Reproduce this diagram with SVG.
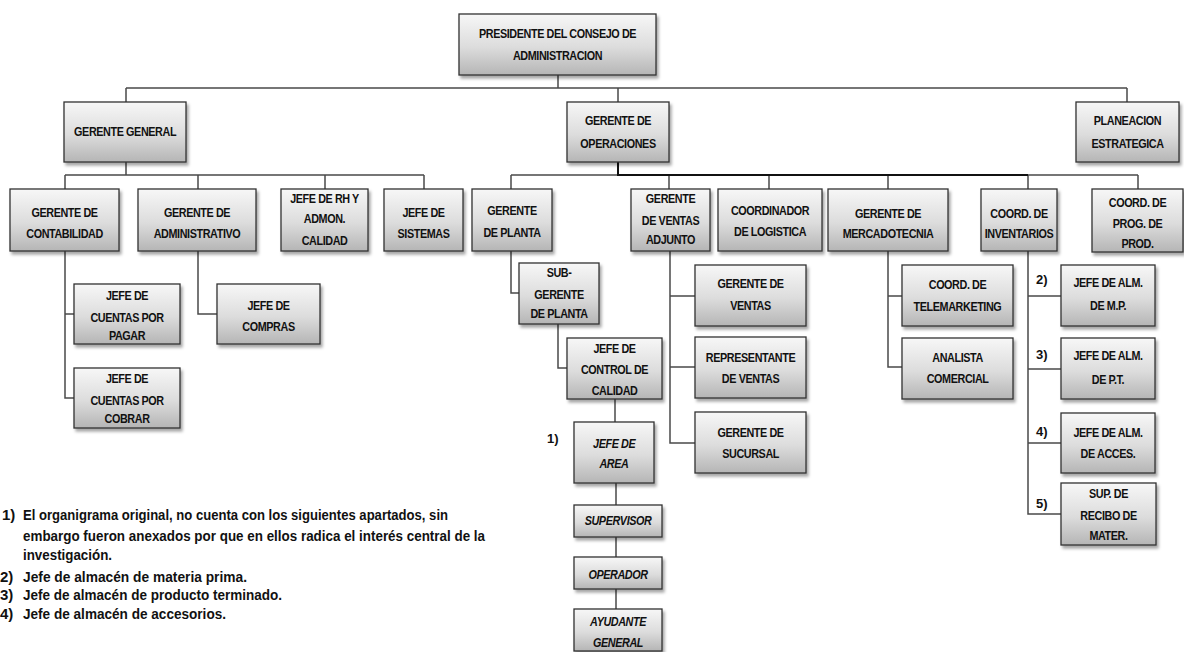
<svg xmlns="http://www.w3.org/2000/svg" width="1184" height="652" viewBox="0 0 1184 652">
<defs>
<linearGradient id="g" x1="0" y1="0" x2="0" y2="1">
<stop offset="0" stop-color="#f7f7f7"/>
<stop offset="0.55" stop-color="#dcdcdc"/>
<stop offset="1" stop-color="#b5b5b5"/>
</linearGradient>
<filter id="sh" x="-10%" y="-10%" width="125%" height="130%">
<feDropShadow dx="2" dy="3" stdDeviation="1.6" flood-color="#000" flood-opacity="0.35"/>
</filter>
</defs>
<style>
.b{fill:url(#g);stroke:#333;stroke-width:1.3;filter:url(#sh)}
.t{font-family:'Liberation Sans',sans-serif;font-weight:bold;font-size:13.5px;text-anchor:middle;fill:#111;letter-spacing:-0.5px;transform-box:fill-box;transform-origin:center;transform:scaleX(0.8)}
.i{font-style:italic}
.c{fill:none;stroke:#4a4a4a;stroke-width:1.5}
.k{stroke:#111;stroke-width:2}
.n{font-family:'Liberation Sans',sans-serif;font-weight:bold;font-size:15px;fill:#111}
.l{font-family:'Liberation Sans',sans-serif;font-weight:bold;font-size:13px;fill:#111}
</style>
<rect width="1184" height="652" fill="#fff"/>
<g id="connectors">
<path class="c" d="M558,75V88M126,88H1127M126,88V102M618,88V102M1127,88V102"/>
<path class="c" d="M126,162V175M65,175H424M65,175V189M198,175V189M325,175V189M424,175V189"/>
<path class="c" d="M618,162V175M511,175H1138M511,175V189M669,175V189M769,175V189M888,175V189M1028,175V189M1138,175V189"/>
<path class="c k" d="M618,162V175H1028"/>
<path class="c" d="M65,251V398H74M65,314H74"/>
<path class="c" d="M198,251V314H217"/>
<path class="c" d="M511,251V293H519"/>
<path class="c" d="M558,324V368H567"/>
<path class="c" d="M615,399V422"/>
<path class="c" d="M616,483V505M616,537V557M616,589V609"/>
<path class="c" d="M670,251V443H695M670,296H695M670,367H695"/>
<path class="c" d="M888,251V367H902M888,296H902"/>
<path class="c" d="M1028,251V514H1061M1028,296H1061M1028,369H1061M1028,443H1061"/>
</g>
<g id="pres"><rect class="b" x="459" y="14" width="197" height="61"/><text class="t" x="557.5" y="38">PRESIDENTE DEL CONSEJO DE</text><text class="t" x="557.5" y="60">ADMINISTRACION</text></g>
<g id="gg"><rect class="b" x="64" y="102" width="122" height="60"/><text class="t" x="125" y="136">GERENTE GENERAL</text></g>
<g id="go"><rect class="b" x="567" y="102" width="102" height="60"/><text class="t" x="618" y="125">GERENTE  DE</text><text class="t" x="618" y="148">OPERACIONES</text></g>
<g id="plan"><rect class="b" x="1076" y="102" width="103" height="60"/><text class="t" x="1127.5" y="125">PLANEACION</text><text class="t" x="1127.5" y="148">ESTRATEGICA</text></g>
<g id="cont"><rect class="b" x="10" y="189" width="109" height="62"/><text class="t" x="64.5" y="217">GERENTE DE</text><text class="t" x="64.5" y="238">CONTABILIDAD</text></g>
<g id="adm"><rect class="b" x="138" y="189" width="118" height="62"/><text class="t" x="197" y="217">GERENTE DE</text><text class="t" x="197" y="238">ADMINISTRATIVO</text></g>
<g id="rh"><rect class="b" x="281" y="189" width="87" height="62"/><text class="t" x="324.5" y="203">JEFE DE RH Y</text><text class="t" x="324.5" y="223">ADMON.</text><text class="t" x="324.5" y="245">CALIDAD</text></g>
<g id="sis"><rect class="b" x="384" y="189" width="79" height="62"/><text class="t" x="423.5" y="217">JEFE DE</text><text class="t" x="423.5" y="238">SISTEMAS</text></g>
<g id="planta"><rect class="b" x="472" y="189" width="80" height="62"/><text class="t" x="512" y="215">GERENTE</text><text class="t" x="512" y="237">DE PLANTA</text></g>
<g id="vadj"><rect class="b" x="631" y="189" width="79" height="62"/><text class="t" x="670.5" y="203">GERENTE</text><text class="t" x="670.5" y="225">DE VENTAS</text><text class="t" x="670.5" y="244">ADJUNTO</text></g>
<g id="log"><rect class="b" x="718" y="189" width="104" height="62"/><text class="t" x="770" y="215">COORDINADOR</text><text class="t" x="770" y="236">DE LOGISTICA</text></g>
<g id="merc"><rect class="b" x="828" y="189" width="120" height="62"/><text class="t" x="888" y="218">GERENTE DE</text><text class="t" x="888" y="238">MERCADOTECNIA</text></g>
<g id="inv"><rect class="b" x="981" y="189" width="76" height="62"/><text class="t" x="1019" y="218">COORD. DE</text><text class="t" x="1019" y="238">INVENTARIOS</text></g>
<g id="prog"><rect class="b" x="1092" y="189" width="91" height="63"/><text class="t" x="1137.5" y="207">COORD. DE</text><text class="t" x="1137.5" y="228">PROG. DE</text><text class="t" x="1137.5" y="248">PROD.</text></g>
<g id="cxp"><rect class="b" x="74" y="284" width="106" height="60"/><text class="t" x="127" y="300">JEFE DE</text><text class="t" x="127" y="322">CUENTAS POR</text><text class="t" x="127" y="340">PAGAR</text></g>
<g id="cxc"><rect class="b" x="74" y="368" width="106" height="60"/><text class="t" x="127" y="383">JEFE DE</text><text class="t" x="127" y="405">CUENTAS POR</text><text class="t" x="127" y="423">COBRAR</text></g>
<g id="compras"><rect class="b" x="217" y="284" width="103" height="60"/><text class="t" x="268.5" y="310">JEFE DE</text><text class="t" x="268.5" y="331">COMPRAS</text></g>
<g id="subg"><rect class="b" x="519" y="263" width="80" height="61"/><text class="t" x="559" y="277">SUB-</text><text class="t" x="559" y="299">GERENTE</text><text class="t" x="559" y="318">DE PLANTA</text></g>
<g id="ctrl"><rect class="b" x="567" y="338" width="95" height="61"/><text class="t" x="614.5" y="353">JEFE DE</text><text class="t" x="614.5" y="374">CONTROL DE</text><text class="t" x="614.5" y="395">CALIDAD</text></g>
<g id="area"><rect class="b" x="574" y="422" width="80" height="61"/><text class="t i" x="614" y="448">JEFE DE</text><text class="t i" x="614" y="468">AREA</text></g>
<g id="sup"><rect class="b" x="574" y="505" width="88" height="32"/><text class="t i" x="618" y="525">SUPERVISOR</text></g>
<g id="oper"><rect class="b" x="574" y="557" width="88" height="32"/><text class="t i" x="618" y="579">OPERADOR</text></g>
<g id="ayud"><rect class="b" x="574" y="609" width="88" height="42"/><text class="t i" x="618" y="626">AYUDANTE</text><text class="t i" x="618" y="647">GENERAL</text></g>
<g id="gventas"><rect class="b" x="695" y="265" width="111" height="61"/><text class="t" x="750.5" y="288">GERENTE DE</text><text class="t" x="750.5" y="310">VENTAS</text></g>
<g id="rep"><rect class="b" x="695" y="337" width="111" height="61"/><text class="t" x="750.5" y="362">REPRESENTANTE</text><text class="t" x="750.5" y="383">DE VENTAS</text></g>
<g id="suc"><rect class="b" x="695" y="412" width="111" height="61"/><text class="t" x="750.5" y="437">GERENTE DE</text><text class="t" x="750.5" y="458">SUCURSAL</text></g>
<g id="tele"><rect class="b" x="902" y="265" width="111" height="61"/><text class="t" x="957.5" y="289">COORD. DE</text><text class="t" x="957.5" y="311">TELEMARKETING</text></g>
<g id="anal"><rect class="b" x="902" y="338" width="111" height="61"/><text class="t" x="957.5" y="362">ANALISTA</text><text class="t" x="957.5" y="383">COMERCIAL</text></g>
<g id="mp"><rect class="b" x="1061" y="265" width="94" height="61"/><text class="t" x="1108" y="287">JEFE DE ALM.</text><text class="t" x="1108" y="310">DE M.P.</text></g>
<g id="pt"><rect class="b" x="1061" y="338" width="94" height="61"/><text class="t" x="1108" y="360">JEFE DE ALM.</text><text class="t" x="1108" y="384">DE P.T.</text></g>
<g id="acces"><rect class="b" x="1061" y="413" width="94" height="60"/><text class="t" x="1108" y="437">JEFE DE ALM.</text><text class="t" x="1108" y="458">DE ACCES.</text></g>
<g id="recibo"><rect class="b" x="1061" y="483" width="95" height="62"/><text class="t" x="1108.5" y="498">SUP. DE</text><text class="t" x="1108.5" y="520">RECIBO DE</text><text class="t" x="1108.5" y="540">MATER.</text></g>
<g id="marks">
<text class="l" x="547" y="443">1)</text>
<text class="l" x="1036" y="284">2)</text>
<text class="l" x="1036" y="359">3)</text>
<text class="l" x="1036" y="436">4)</text>
<text class="l" x="1036" y="508">5)</text>
</g>
<g id="notes">
<text class="n" x="2" y="520">1)</text>
<text class="n" x="23" y="520" textLength="425" lengthAdjust="spacingAndGlyphs">El organigrama original, no cuenta con los siguientes apartados, sin</text>
<text class="n" x="23" y="541" textLength="462" lengthAdjust="spacingAndGlyphs">embargo fueron anexados por que en ellos radica el interés central de la</text>
<text class="n" x="23" y="560" textLength="89" lengthAdjust="spacingAndGlyphs">investigación.</text>
<text class="n" x="0" y="582">2)</text>
<text class="n" x="23" y="582" textLength="224" lengthAdjust="spacingAndGlyphs">Jefe de almacén de materia prima.</text>
<text class="n" x="0" y="600">3)</text>
<text class="n" x="23" y="600" textLength="259" lengthAdjust="spacingAndGlyphs">Jefe de almacén de producto  terminado.</text>
<text class="n" x="0" y="619">4)</text>
<text class="n" x="23" y="619" textLength="203" lengthAdjust="spacingAndGlyphs">Jefe de almacén de accesorios.</text>
</g>
</svg>
